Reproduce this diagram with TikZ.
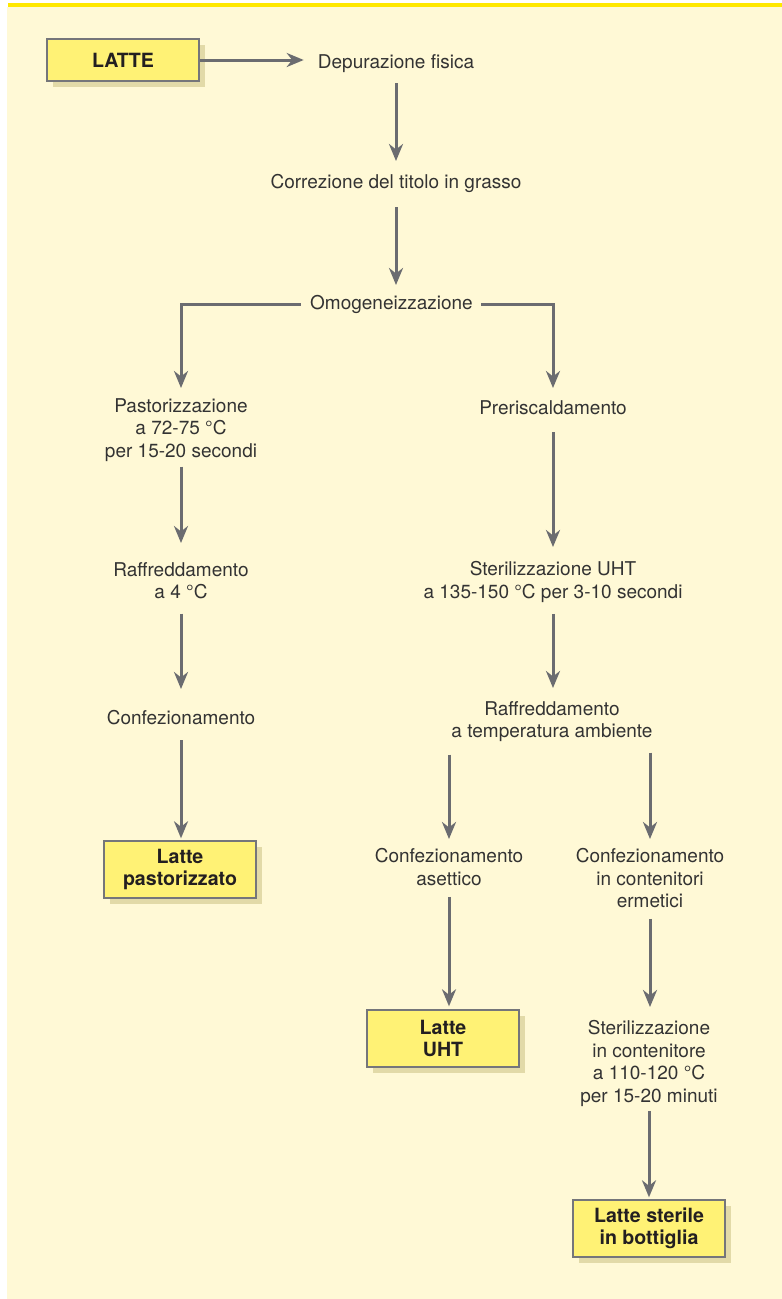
\documentclass[tikz,border=0pt]{standalone}
\usepackage{fontspec}
\setmainfont{TeX Gyre Heros}
\usetikzlibrary{arrows.meta,shadows}
\definecolor{band}{HTML}{FFE800}
\definecolor{cream}{HTML}{FFF9D6}
\definecolor{boxfill}{HTML}{FFF275}
\definecolor{boxline}{HTML}{75767A}
\definecolor{shade}{HTML}{E2DAA8}
\definecolor{conn}{HTML}{6B6C70}
\definecolor{ink}{HTML}{333333}
\definecolor{inkbold}{HTML}{231F20}

\begin{document}
\begin{tikzpicture}[x=1pt,y=-1pt,
  stage/.style={anchor=north, align=center, inner sep=0pt, text=ink,
    font=\fontsize{19}{22.5}\selectfont,
    execute at begin node=\strut, execute at end node=\strut},
  product/.style={draw=boxline, line width=1.4pt, fill=boxfill,
    minimum width=152pt, inner sep=0pt, align=center, text=inkbold,
    font=\fontsize{19.6}{22}\selectfont\bfseries,
    general shadow={fill=shade, shadow xshift=5.5pt, shadow yshift=-5.5pt}},
  flow/.style={draw=conn, line width=3pt,
    -{Stealth[length=17pt,width=14pt,inset=5.5pt]}}
]
% page, cream panel and top band
\fill[white] (0,0) rectangle (782,1299);
\fill[cream] (7,7.3) rectangle (782,1299);
\fill[band] (8,2.7) rectangle (782,7.3);
\useasboundingbox (0,0) rectangle (782,1299);

% main trunk
\node[product, minimum height=42pt] (latte) at (123,60) {LATTE};
\node[stage] (dep) at (396,52.25) {Depurazione fisica};
\node[stage] (corr) at (396,172.25) {Correzione del titolo in grasso};
\node[stage] (omo) at (391.5,293.25) {Omogeneizzazione};

% pasteurised branch
\node[stage] (past) at (181,398.25) {Pastorizzazione\\a 72-75 °C\\per 15-20 secondi};
\node[stage] (raffL) at (181,562.25) {Raffreddamento\\a 4 °C};
\node[stage] (confL) at (181,708.25) {Confezionamento};
\node[product, minimum height=57pt] (bP) at (180,869.5) {Latte\\pastorizzato};

% sterilised branch
\node[stage] (prer) at (553,398.25) {Preriscaldamento};
\node[stage] (ste) at (553,561.25) {Sterilizzazione UHT\\a 135-150 °C per 3-10 secondi};
\node[stage] (raffR) at (552,701.25) {Raffreddamento\\a temperatura ambiente};
\node[stage] (confA) at (449,848.25) {Confezionamento\\asettico};
\node[stage] (confE) at (650,848.25) {Confezionamento\\in contenitori\\ermetici};
\node[product, minimum height=57pt] (bU) at (443,1038.5) {Latte\\UHT};
\node[stage] (steC) at (649,1020.25) {Sterilizzazione\\in contenitore\\a 110-120 °C\\per 15-20 minuti};
\node[product, minimum height=57pt] (bS) at (649,1228.5) {Latte sterile\\in bottiglia};

% connectors
\draw[flow, shorten >=14pt] (latte.east) -- (latte.east -| dep.west);
\draw[flow, shorten <=8.25pt, shorten >=11.25pt] (dep.south) -- (corr.north);
\draw[flow, shorten <=12.25pt, shorten >=8.25pt] (corr.south) -- (corr.south |- omo.north);
\draw[flow, shorten <=9pt, shorten >=10.25pt] (omo.west) -| (past.north);
\draw[flow, shorten <=8pt, shorten >=10.25pt] (omo.east) -| (prer.north);

\draw[flow, shorten <=2.25pt, shorten >=19.25pt] (past.south) -- (raffL.north);
\draw[flow, shorten <=7.75pt, shorten >=19.25pt] (raffL.south) -- (confL.north);
\draw[flow, shorten <=9.25pt, shorten >=2pt] (confL.south) -- (confL.south |- bP.north);

\draw[flow, shorten <=11.25pt, shorten >=14.25pt] (prer.south) -- (ste.north);
\draw[flow, shorten <=8.75pt, shorten >=13.25pt] (ste.south) -- (ste.south |- raffR.north);
\draw[flow, shorten <=9.75pt, shorten >=9.25pt] (raffR.south -| confA.north) -- (confA.north);
\draw[flow, shorten <=7.75pt, shorten >=9.25pt] (raffR.south -| confE.north) -- (confE.north);
\draw[flow, shorten <=4.75pt, shorten >=3pt] (confA.south) -- (confA.south |- bU.north);
\draw[flow, shorten <=4.25pt, shorten >=13.25pt] (confE.south) -- (confE.south |- steC.north);
\draw[flow, shorten <=1.75pt, shorten >=2pt] (steC.south) -- (steC.south |- bS.north);
\end{tikzpicture}
\end{document}
